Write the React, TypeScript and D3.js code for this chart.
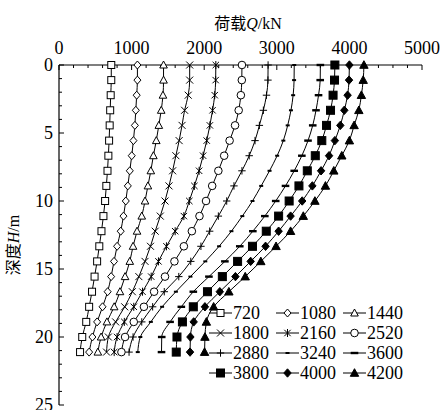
import React from "react"
import { scaleLinear, line, curveMonotoneY, range } from "d3"

// depth of each measuring point along the pile (m)
const depths = [0, 1.11, 2.22, 3.33, 4.44, 5.56, 6.67, 7.78, 8.89, 10, 11.11, 12.22, 13.33, 14.44, 15.56, 16.67, 17.78, 18.89, 20, 21.11]

// axial force (kN) at each depth, one array per head load
const q720 = [720, 720, 712, 705, 698, 690, 680, 668, 652, 635, 612, 585, 555, 525, 490, 455, 415, 375, 320, 290]
const q1080 = [1080, 1080, 1070, 1058, 1045, 1025, 1002, 975, 948, 920, 888, 850, 800, 758, 718, 670, 600, 525, 460, 415]
const q1440 = [1440, 1440, 1432, 1408, 1375, 1340, 1300, 1265, 1225, 1185, 1140, 1075, 1020, 975, 910, 840, 760, 660, 580, 535]
const q1800 = [1800, 1800, 1780, 1730, 1695, 1655, 1610, 1565, 1515, 1460, 1395, 1325, 1260, 1185, 1100, 1010, 905, 780, 680, 655]
const q2160 = [2160, 2158, 2145, 2115, 2078, 2035, 1985, 1930, 1865, 1795, 1720, 1600, 1480, 1370, 1270, 1150, 1030, 900, 800, 760]
const q2520 = [2520, 2518, 2505, 2475, 2425, 2350, 2275, 2195, 2110, 2025, 1935, 1830, 1720, 1590, 1460, 1310, 1170, 1030, 910, 860]
const q2880 = [2880, 2878, 2858, 2815, 2760, 2700, 2620, 2520, 2410, 2310, 2195, 2075, 1955, 1815, 1650, 1450, 1290, 1140, 1020, 965]
const q3240 = [3240, 3238, 3225, 3195, 3150, 3090, 3005, 2900, 2785, 2665, 2525, 2375, 2205, 2015, 1810, 1610, 1420, 1265, 1120, 1085]
const q3600 = [3600, 3598, 3575, 3540, 3495, 3430, 3345, 3240, 3120, 2985, 2835, 2670, 2490, 2285, 2065, 1850, 1685, 1530, 1415, 1412]
const q3800 = [3800, 3795, 3775, 3740, 3685, 3620, 3530, 3420, 3305, 3170, 3025, 2855, 2665, 2460, 2250, 2045, 1850, 1700, 1625, 1615]
const q4000 = [4000, 3995, 3975, 3930, 3875, 3800, 3720, 3610, 3490, 3350, 3190, 3025, 2845, 2640, 2430, 2215, 2010, 1855, 1810, 1805]
const q4200 = [4200, 4190, 4165, 4130, 4065, 4000, 3895, 3785, 3670, 3525, 3365, 3190, 2990, 2780, 2565, 2340, 2130, 2030, 2010, 2005]

const loadLabels = ["720", "1080", "1440", "1800", "2160", "2520", "2880", "3240", "3600", "3800", "4000", "4200"]
const markerKinds = ["square", "diamond", "triangle", "cross", "star", "circle", "plus", "dashS", "dashL", "squareF", "diamondF", "triangleF"]
const seriesValues = [q720, q1080, q1440, q1800, q2160, q2520, q2880, q3240, q3600, q3800, q4000, q4200]

const xTicks = [0, 1000, 2000, 3000, 4000, 5000]
const yTicks = [0, 5, 10, 15, 20, 25]

const FONT = "'Liberation Serif', 'Times New Roman', 'Noto Sans CJK SC', serif"

function Marker({ kind, x, y }: { kind: string; x: number; y: number }) {
  const s = { stroke: "#000", strokeWidth: 1, fill: "#fff" }
  const f = { stroke: "#000", strokeWidth: 1, fill: "#000" }
  switch (kind) {
    case "square":
      return <rect x={x - 3.5} y={y - 3.5} width={7} height={7} {...s} />
    case "squareF":
      return <rect x={x - 4} y={y - 4} width={8} height={8} {...f} />
    case "diamond":
      return <path d={`M${x},${y - 4}L${x + 3.5},${y}L${x},${y + 4}L${x - 3.5},${y}Z`} {...s} />
    case "diamondF":
      return <path d={`M${x},${y - 4.2}L${x + 3.7},${y}L${x},${y + 4.2}L${x - 3.7},${y}Z`} {...f} />
    case "triangle":
      return <path d={`M${x},${y - 4}L${x + 3.8},${y + 3}L${x - 3.8},${y + 3}Z`} {...s} />
    case "triangleF":
      return <path d={`M${x},${y - 4.3}L${x + 4.2},${y + 3.3}L${x - 4.2},${y + 3.3}Z`} {...f} />
    case "cross":
      return <path d={`M${x - 3.5},${y - 3.5}L${x + 3.5},${y + 3.5}M${x - 3.5},${y + 3.5}L${x + 3.5},${y - 3.5}`} {...s} />
    case "star":
      return (
        <path
          d={`M${x - 3.2},${y - 3.2}L${x + 3.2},${y + 3.2}M${x - 3.2},${y + 3.2}L${x + 3.2},${y - 3.2}M${x},${y - 4}L${x},${y + 4}`}
          {...s}
        />
      )
    case "circle":
      return <circle cx={x} cy={y} r={3.8} {...s} />
    case "plus":
      return <path d={`M${x - 3.7},${y}L${x + 3.7},${y}M${x},${y - 3.7}L${x},${y + 3.7}`} {...s} />
    case "dashS":
      return <rect x={x - 2} y={y - 1} width={4} height={2} fill="#000" />
    case "dashL":
      return <rect x={x - 3.8} y={y - 1.2} width={7.6} height={2.4} fill="#000" />
  }
  return null
}

export default function App() {
  const left = 59
  const top = 65
  const plotW = 363
  const plotH = 340

  const x = scaleLinear().domain([0, 5000]).range([left, left + plotW])
  const y = scaleLinear().domain([0, 25]).range([top, top + plotH])

  const path = line<number>()
    .x((d) => x(d))
    .y((_, i) => y(depths[i]))
    .curve(curveMonotoneY)

  const xMinor = range(0, 5001, 200)
  const yMinor = range(0, 26, 1)

  const legendCols = [209, 276, 343]
  const legendRows = [313, 333, 353, 373]

  return (
    <svg
      width={447}
      height={410}
      style={{ position: "absolute", left: 0, top: 0, background: "#fff" }}
      fontFamily={FONT}
    >
      {/* axis title */}
      <text x={248} y={29} fontSize={16} textAnchor="middle">
        荷载<tspan fontStyle="italic">Q</tspan>/kN
      </text>
      <text transform="translate(19,245) rotate(-90)" fontSize={16} textAnchor="middle">
        深度<tspan fontStyle="italic">H</tspan>/m
      </text>

      {/* x axis on top */}
      <line x1={x(0)} x2={x(5000)} y1={top} y2={top} stroke="#000" strokeWidth={1.2} />
      {xMinor.map((v) => (
        <line key={"xm" + v} x1={x(v)} x2={x(v)} y1={top} y2={top + (v % 1000 === 0 ? 5 : 3)} stroke="#000" strokeWidth={1} />
      ))}
      {xTicks.map((v) => (
        <text key={"xt" + v} x={x(v)} y={54} fontSize={18} textAnchor="middle">
          {v}
        </text>
      ))}

      {/* y axis */}
      <line x1={left} x2={left} y1={top} y2={y(25)} stroke="#000" strokeWidth={1.2} />
      {yMinor.map((v) => (
        <line key={"ym" + v} x1={left} x2={left + (v % 5 === 0 ? 5 : 3)} y1={y(v)} y2={y(v)} stroke="#000" strokeWidth={1} />
      ))}
      {yTicks.map((v) => (
        <text key={"yt" + v} x={53} y={y(v)} dy="0.35em" fontSize={18} textAnchor="end">
          {v}
        </text>
      ))}

      {/* curves */}
      {seriesValues.map((vals, si) => (
        <g key={"s" + si}>
          <path d={path(vals) || ""} fill="none" stroke="#000" strokeWidth={1} />
          {vals.map((v, i) => (
            <Marker key={i} kind={markerKinds[si]} x={x(v)} y={y(depths[i])} />
          ))}
        </g>
      ))}

      {/* legend */}
      {loadLabels.map((lab, i) => {
        const lx = legendCols[i % 3]
        const ly = legendRows[Math.floor(i / 3)]
        return (
          <g key={"lg" + i}>
            <line x1={lx} x2={lx + 23} y1={ly} y2={ly} stroke="#000" strokeWidth={1} />
            <Marker kind={markerKinds[i]} x={lx + 11.5} y={ly} />
            <text x={lx + 24} y={ly} dy="0.35em" fontSize={18}>
              {lab}
            </text>
          </g>
        )
      })}
    </svg>
  )
}
